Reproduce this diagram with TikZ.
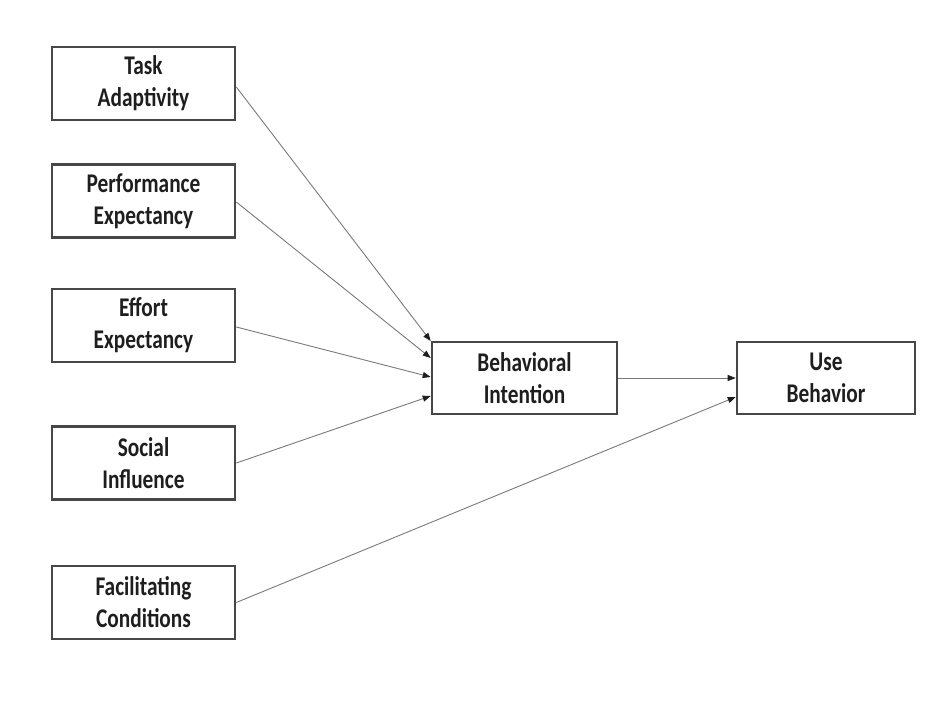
\documentclass[tikz,border=0pt]{standalone}
\usepackage{fontspec}
\setmainfont{Carlito}[FakeStretch=0.79]
\usetikzlibrary{arrows.meta}
\definecolor{boxline}{HTML}{474747}
\definecolor{conn}{HTML}{7A7A7A}
\definecolor{txt}{HTML}{1E1E1E}
\begin{document}
\begin{tikzpicture}[x=1pt,y=-1pt,
  box/.style={draw=boxline,line width=2.6pt,fill=white,text=txt,align=center,
    inner sep=0pt,font=\fontsize{27}{32}\selectfont\bfseries},
  lbox/.style={box,minimum width=183pt,minimum height=73pt},
  conline/.style={draw=conn,line width=0.9pt,-{Triangle[length=8pt,width=6pt,color=txt]},
    shorten >=0pt}]
\useasboundingbox[fill=white] (0,0) rectangle (925,720);
\node[lbox] (task) at (143.5,83.5) {Task\\Adaptivity};
\node[lbox] (perf) at (143.5,201) {Performance\\Expectancy};
\node[lbox] (eff) at (143.5,325.5) {Effort\\Expectancy};
\node[lbox] (soc) at (143.5,463) {Social\\Influence};
\node[lbox] (fac) at (143.5,602.5) {Facilitating\\Conditions};
\node[box,minimum width=185pt,minimum height=72pt] (beh) at (524.5,378) {Behavioral\\Intention};
\node[box,minimum width=178pt,minimum height=72pt] (use) at (826,378) {Use\\Behavior};
\draw[conline] ([yshift=-3.5pt]task.east) -- ([yshift=37pt]beh.west);
\draw[conline] ([yshift=-1pt]perf.east) -- ([yshift=20pt]beh.west);
\draw[conline] ([yshift=-1.5pt]eff.east) -- ([yshift=1pt]beh.west);
\draw[conline] (soc.east) -- ([yshift=-18pt]beh.west);
\draw[conline] (beh.east) -- (use.west);
\draw[conline] (fac.east) -- ([yshift=-19pt]use.west);
\end{tikzpicture}
\end{document}
